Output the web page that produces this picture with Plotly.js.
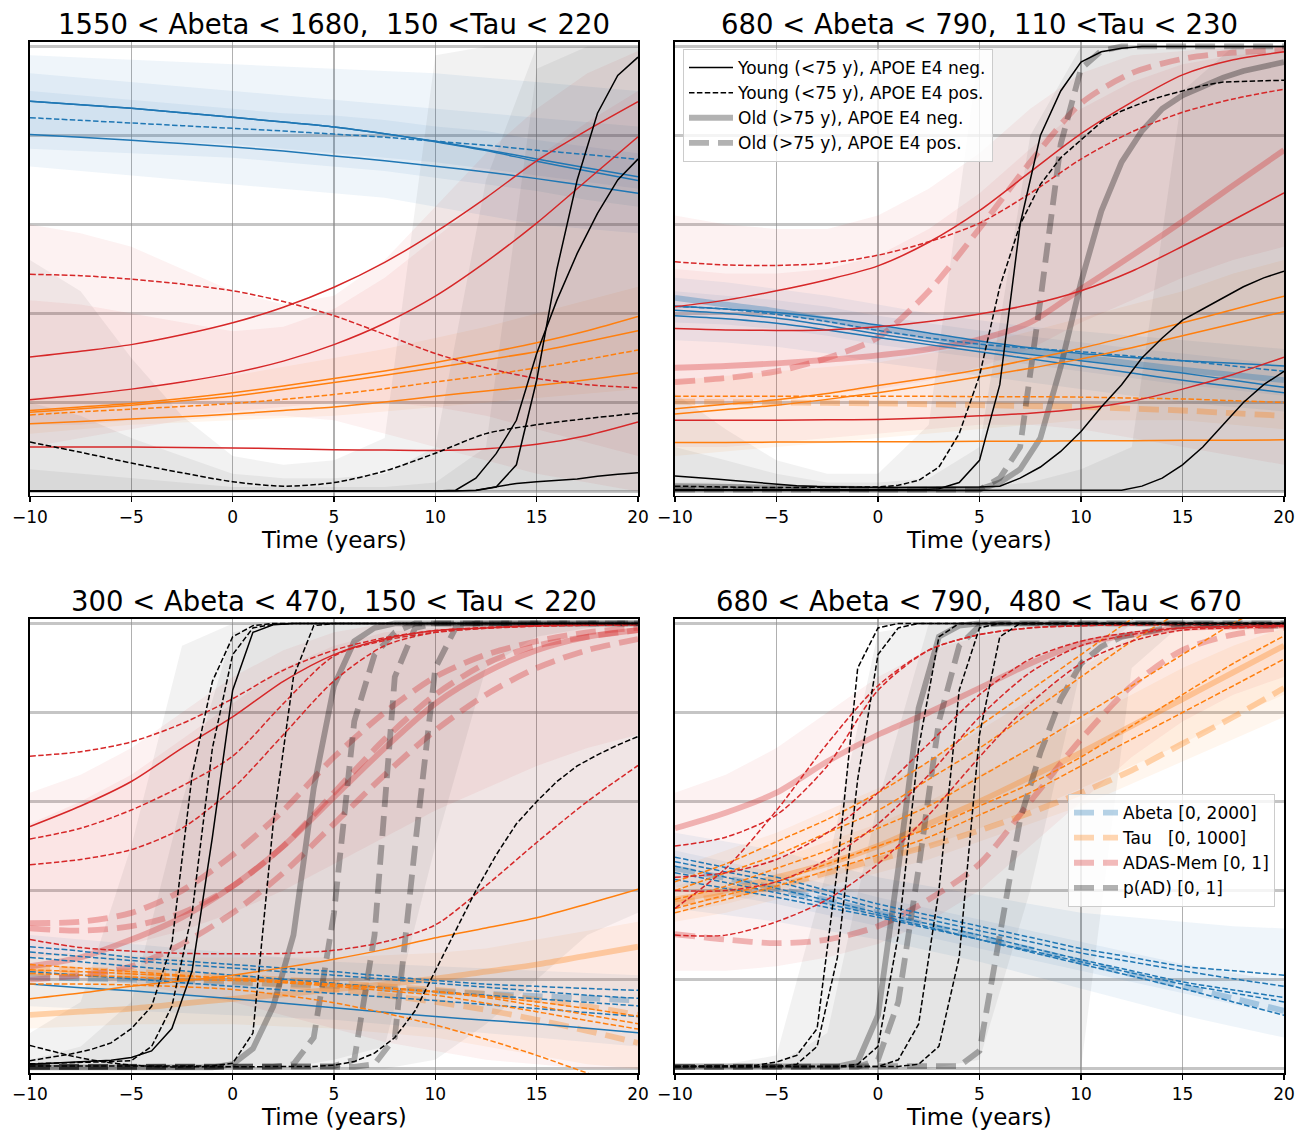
<!DOCTYPE html>
<html><head><meta charset="utf-8">
<script src="https://cdn.plot.ly/plotly-3.0.1.min.js"></script>
<style>html,body{margin:0;padding:0;background:#fff;}#chart{width:1309px;height:1132px;}</style>
</head><body><div id="chart"></div>
<script>
// ---------- time grids ----------
const T5 = [-10,-7.5,-5,-2.5,0,2.5,5,7.5,10,12.5,15,17.5,20];
const T1 = [-10,-9,-8,-7,-6,-5,-4,-3,-2,-1,0,1,2,3,4,5,6,7,8,9,10,11,12,13,14,15,16,17,18,19,20];
const XTICKS = [-10,-5,0,5,10,15,20];
const YGRID = [0,0.2,0.4,0.6,0.8,1.0];
const TITLES = ['1550 < Abeta < 1680,\u00a0 150 <Tau < 220','680 < Abeta < 790,\u00a0 110 <Tau < 230','300 < Abeta < 470,\u00a0 150 < Tau < 220','680 < Abeta < 790,\u00a0 480 < Tau < 670'];
const XLABEL = 'Time (years)';
const LEG1 = ['Young (<75 y), APOE E4 neg.','Young (<75 y), APOE E4 pos.','Old (>75 y), APOE E4 neg.','Old (>75 y), APOE E4 pos.'];
const LEG2 = ['Abeta [0, 2000]','Tau\u00a0\u00a0\u00a0[0, 1000]','ADAS-Mem [0, 1]','p(AD) [0, 1]'];

// ---------- panel 1 ----------
const ab1_s1 = [0.877,0.869,0.861,0.851,0.841,0.830,0.819,0.804,0.787,0.768,0.747,0.727,0.707];
const ab1_s2 = [0.877,0.869,0.861,0.851,0.841,0.830,0.819,0.804,0.786,0.766,0.742,0.720,0.699];
const ab1_d1 = [0.840,0.834,0.828,0.822,0.816,0.810,0.803,0.796,0.787,0.778,0.767,0.757,0.746];
const ab1_s3 = [0.802,0.796,0.789,0.782,0.774,0.765,0.754,0.743,0.731,0.718,0.703,0.687,0.670];
const ad1_s1 = [0.302,0.315,0.330,0.352,0.379,0.414,0.459,0.515,0.583,0.660,0.743,0.812,0.876];
const ad1_s2 = [0.206,0.217,0.230,0.246,0.266,0.293,0.330,0.378,0.439,0.516,0.603,0.700,0.797];
const ad1_d1 = [0.488,0.485,0.477,0.466,0.451,0.427,0.395,0.353,0.310,0.278,0.254,0.240,0.233];
const ad1_s3 = [0.100,0.100,0.100,0.099,0.098,0.096,0.094,0.093,0.092,0.096,0.106,0.126,0.156];
const ta1_s1 = [0.182,0.190,0.198,0.209,0.222,0.237,0.254,0.271,0.290,0.311,0.334,0.361,0.393];
const ta1_s2 = [0.178,0.186,0.194,0.204,0.214,0.229,0.245,0.261,0.278,0.296,0.314,0.337,0.361];
const ta1_d1 = [0.172,0.179,0.185,0.191,0.198,0.207,0.218,0.231,0.246,0.261,0.278,0.297,0.318];
const ta1_s3 = [0.152,0.157,0.163,0.168,0.174,0.182,0.190,0.201,0.214,0.226,0.238,0.251,0.266];
const pd1_s1 = [0.001,0.001,0.001,0.001,0.001,0.001,0.001,0.001,0.001,0.001,0.001,0.001,0.001,0.001,0.001,0.001,0.001,0.001,0.001,0.001,0.001,0.001,0.002,0.010,0.060,0.250,0.500,0.700,0.850,0.935,0.976];
const pd1_s2 = [0.001,0.001,0.001,0.001,0.001,0.001,0.001,0.001,0.001,0.001,0.001,0.001,0.001,0.001,0.001,0.001,0.001,0.001,0.001,0.001,0.001,0.003,0.030,0.085,0.160,0.310,0.430,0.535,0.625,0.700,0.747];
const pd1_s3 = [0.001,0.001,0.001,0.001,0.001,0.001,0.001,0.001,0.001,0.001,0.001,0.001,0.001,0.001,0.001,0.001,0.001,0.001,0.001,0.001,0.001,0.001,0.003,0.010,0.018,0.022,0.025,0.028,0.034,0.039,0.042];
const pd1_d1 = [0.111,0.088,0.064,0.042,0.022,0.012,0.020,0.046,0.086,0.130,0.150,0.164,0.176];
// bands panel 1
const ab1_lo1 = [0.73,0.72,0.71,0.70,0.69,0.68,0.67,0.66,0.64,0.62,0.60,0.59,0.58];
const ab1_hi1 = [0.98,0.975,0.97,0.965,0.96,0.955,0.95,0.945,0.94,0.93,0.92,0.91,0.90];
const ab1_lo2 = [0.77,0.765,0.76,0.755,0.75,0.74,0.73,0.72,0.705,0.69,0.675,0.655,0.64];
const ab1_hi2 = [0.94,0.93,0.92,0.91,0.90,0.89,0.88,0.87,0.86,0.85,0.84,0.83,0.82];
const ab1_lo3 = [0.80,0.795,0.79,0.785,0.78,0.77,0.76,0.75,0.74,0.725,0.71,0.695,0.68];
const ab1_hi3 = [0.90,0.89,0.88,0.87,0.86,0.85,0.845,0.835,0.82,0.81,0.79,0.775,0.76];
const ad1_lo1 = [0.10,0.12,0.14,0.16,0.17,0.17,0.16,0.13,0.10,0.07,0.04,0.02,0.0];
const ad1_hi1 = [0.60,0.58,0.55,0.50,0.45,0.42,0.44,0.52,0.64,0.76,0.86,0.94,0.99];
const ad1_lo2 = [0.15,0.15,0.16,0.17,0.18,0.19,0.20,0.20,0.19,0.17,0.14,0.11,0.08];
const ad1_hi2 = [0.43,0.42,0.40,0.38,0.36,0.37,0.41,0.48,0.57,0.66,0.75,0.83,0.90];
const ta1_lo1 = [0.13,0.14,0.15,0.155,0.16,0.165,0.17,0.18,0.19,0.20,0.21,0.22,0.23];
const ta1_hi1 = [0.21,0.22,0.23,0.245,0.26,0.28,0.30,0.32,0.345,0.37,0.40,0.43,0.46];
const ZERO = [0,0,0,0,0,0,0,0,0,0,0,0,0];
const pd1_hi1 = [0.52,0.45,0.30,0.17,0.08,0.06,0.07,0.12,0.98,1.0,1.0,1.0,1.0];
const pd1_hi2 = [0.20,0.17,0.12,0.08,0.04,0.03,0.03,0.04,0.10,0.70,1.0,1.0,1.0];
const pd1_hi3 = [0.05,0.04,0.03,0.02,0.01,0.01,0.01,0.01,0.02,0.10,0.95,1.0,1.0];

// ---------- panel 2 ----------
const ab2_s1 = [0.416,0.410,0.402,0.390,0.374,0.356,0.338,0.323,0.310,0.301,0.294,0.288,0.282];
const ab2_d1 = [0.416,0.410,0.398,0.382,0.362,0.345,0.331,0.322,0.314,0.304,0.294,0.282,0.270];
const ab2_s2 = [0.407,0.400,0.390,0.373,0.354,0.337,0.322,0.308,0.294,0.280,0.266,0.250,0.234];
const ab2_s3 = [0.395,0.388,0.378,0.363,0.346,0.330,0.314,0.298,0.282,0.266,0.250,0.236,0.222];
const ab2_S  = [0.435,0.420,0.405,0.386,0.366,0.348,0.330,0.316,0.302,0.288,0.274,0.262,0.250];
const ad2_d1 = [0.516,0.509,0.508,0.513,0.531,0.561,0.603,0.670,0.747,0.808,0.852,0.882,0.904];
const ad2_s1 = [0.415,0.430,0.451,0.476,0.507,0.560,0.631,0.718,0.804,0.875,0.936,0.970,0.988];
const ad2_s2 = [0.366,0.363,0.362,0.363,0.370,0.382,0.399,0.420,0.451,0.495,0.551,0.610,0.671];
const ad2_s3 = [0.160,0.160,0.160,0.161,0.162,0.165,0.170,0.176,0.186,0.203,0.230,0.263,0.302];
const ad2_S  = [0.278,0.282,0.288,0.296,0.306,0.320,0.342,0.380,0.455,0.530,0.607,0.688,0.767];
const ad2_D  = [0.246,0.255,0.270,0.300,0.346,0.450,0.591,0.740,0.872,0.940,0.972,0.986,0.992];
const ta2_s1 = [0.186,0.196,0.206,0.220,0.238,0.255,0.274,0.297,0.322,0.350,0.379,0.409,0.439];
const ta2_s2 = [0.174,0.184,0.194,0.207,0.222,0.239,0.258,0.277,0.298,0.323,0.350,0.377,0.404];
const ta2_d1 = [0.214,0.214,0.214,0.214,0.214,0.214,0.213,0.213,0.212,0.210,0.208,0.204,0.200];
const ta2_s3 = [0.110,0.110,0.111,0.111,0.112,0.112,0.113,0.113,0.114,0.114,0.115,0.115,0.116];
const ta2_D  = [0.202,0.201,0.200,0.199,0.198,0.196,0.194,0.192,0.190,0.186,0.182,0.176,0.170];
const pd2_s1 = [0.004,0.004,0.004,0.004,0.004,0.004,0.004,0.004,0.004,0.004,0.004,0.004,0.004,0.006,0.020,0.070,0.240,0.600,0.800,0.900,0.965,0.988,0.996,1,1,1,1,1,1,1,1];
const pd2_d1 = [0.012,0.011,0.010,0.010,0.009,0.009,0.009,0.009,0.009,0.009,0.010,0.014,0.025,0.055,0.130,0.260,0.460,0.600,0.690,0.750,0.790,0.830,0.855,0.873,0.888,0.900,0.912,0.920,0.922,0.923,0.924];
const pd2_s2 = [0.035,0.032,0.028,0.024,0.020,0.016,0.013,0.011,0.010,0.009,0.009,0.009,0.009,0.009,0.009,0.010,0.012,0.030,0.055,0.090,0.135,0.190,0.240,0.300,0.345,0.385,0.410,0.435,0.460,0.480,0.495];
const pd2_s3 = [0.002,0.002,0.002,0.002,0.002,0.002,0.002,0.002,0.002,0.002,0.002,0.002,0.002,0.002,0.002,0.002,0.002,0.002,0.002,0.002,0.002,0.002,0.003,0.012,0.030,0.060,0.100,0.150,0.200,0.240,0.270];
const pd2_S  = [0.012,0.011,0.010,0.009,0.008,0.007,0.006,0.006,0.005,0.005,0.005,0.005,0.005,0.005,0.005,0.005,0.020,0.050,0.120,0.280,0.470,0.630,0.740,0.810,0.860,0.890,0.910,0.930,0.945,0.955,0.965];
const pd2_D  = [0.004,0.004,0.004,0.004,0.004,0.004,0.004,0.004,0.004,0.004,0.004,0.004,0.004,0.004,0.004,0.004,0.030,0.100,0.430,0.780,0.950,0.990,1,1,1,1,1,1,1,1,1];
const ab2_lo1 = [0.34,0.335,0.325,0.31,0.29,0.275,0.26,0.245,0.23,0.215,0.20,0.19,0.18];
const ab2_hi1 = [0.48,0.47,0.455,0.44,0.42,0.40,0.385,0.37,0.36,0.35,0.34,0.33,0.32];
const ab2_lo2 = [0.38,0.375,0.365,0.35,0.33,0.315,0.30,0.285,0.27,0.255,0.24,0.228,0.215];
const ab2_hi2 = [0.45,0.44,0.43,0.415,0.395,0.378,0.362,0.348,0.335,0.322,0.31,0.298,0.285];
const ad2_lo1 = [0.10,0.10,0.11,0.12,0.13,0.14,0.15,0.15,0.14,0.12,0.10,0.08,0.06];
const ad2_hi1 = [0.62,0.60,0.59,0.59,0.62,0.68,0.76,0.86,0.94,0.98,0.99,1.0,1.0];
const ad2_lo2 = [0.20,0.20,0.21,0.22,0.23,0.25,0.28,0.32,0.38,0.43,0.48,0.52,0.55];
const ad2_hi2 = [0.50,0.49,0.49,0.50,0.53,0.59,0.67,0.77,0.86,0.92,0.96,0.98,0.99];
const ta2_lo1 = [0.08,0.09,0.10,0.11,0.12,0.13,0.14,0.15,0.16,0.16,0.16,0.15,0.14];
const ta2_hi1 = [0.25,0.26,0.27,0.28,0.29,0.31,0.33,0.36,0.39,0.42,0.45,0.49,0.52];
const pd2_hi1 = [0.22,0.14,0.07,0.04,0.04,0.15,1.0,1.0,1.0,1.0,1.0,1.0,1.0];
const pd2_hi2 = [0.10,0.07,0.04,0.02,0.02,0.03,0.10,0.80,1.0,1.0,1.0,1.0,1.0];
const pd2_hi3 = [0.02,0.02,0.01,0.01,0.01,0.01,0.01,0.02,0.05,0.10,0.90,1.0,1.0];

// ---------- panel 3 ----------
const ab3_s1 = [0.190,0.182,0.175,0.166,0.157,0.147,0.137,0.127,0.117,0.109,0.101,0.091,0.081];
const ab3_d1 = [0.274,0.264,0.250,0.242,0.234,0.226,0.218,0.208,0.198,0.190,0.185,0.180,0.176];
const ab3_d2 = [0.250,0.240,0.230,0.220,0.210,0.201,0.192,0.182,0.173,0.165,0.157,0.149,0.141];
const ab3_d3 = [0.218,0.210,0.202,0.193,0.185,0.177,0.169,0.161,0.153,0.144,0.135,0.126,0.117];
const ab3_d4 = [0.262,0.252,0.243,0.234,0.226,0.218,0.210,0.201,0.192,0.183,0.174,0.165,0.158];
const ab3_D  = [0.206,0.203,0.200,0.197,0.194,0.190,0.186,0.180,0.174,0.168,0.163,0.158,0.153];
const ta3_s1 = [0.157,0.170,0.185,0.197,0.210,0.227,0.246,0.268,0.294,0.316,0.339,0.370,0.403];
const ta3_d1 = [0.234,0.226,0.218,0.210,0.202,0.193,0.185,0.175,0.165,0.147,0.128,0.108,0.089];
const ta3_d2 = [0.214,0.210,0.206,0.201,0.198,0.194,0.188,0.180,0.172,0.160,0.141,0.121,0.101];
const ta3_d3 = [0.190,0.190,0.188,0.184,0.178,0.165,0.148,0.125,0.098,0.066,0.030,-0.010,-0.050];
const ta3_d4 = [0.222,0.218,0.213,0.208,0.203,0.197,0.190,0.182,0.174,0.163,0.150,0.135,0.118];
const ta3_S  = [0.121,0.128,0.135,0.146,0.157,0.167,0.178,0.190,0.202,0.218,0.234,0.254,0.274];
const ta3_D1 = [0.226,0.222,0.218,0.212,0.206,0.200,0.193,0.185,0.177,0.168,0.155,0.140,0.121];
const ta3_D2 = [0.215,0.212,0.208,0.202,0.196,0.188,0.178,0.165,0.150,0.132,0.110,0.085,0.058];
const ad3_s1 = [0.544,0.590,0.645,0.720,0.790,0.870,0.930,0.965,0.984,0.990,0.995,0.997,0.998];
const ad3_d1 = [0.702,0.712,0.734,0.775,0.831,0.895,0.940,0.968,0.984,0.991,0.995,0.997,0.998];
const ad3_d2 = [0.516,0.540,0.581,0.635,0.702,0.820,0.927,0.962,0.980,0.989,0.994,0.996,0.997];
const ad3_d3 = [0.458,0.470,0.492,0.540,0.629,0.750,0.871,0.950,0.980,0.990,0.994,0.996,0.997];
const ad3_d4 = [0.290,0.272,0.264,0.259,0.258,0.259,0.266,0.285,0.323,0.411,0.508,0.600,0.681];
const ad3_S  = [0.230,0.250,0.290,0.340,0.410,0.500,0.610,0.720,0.820,0.890,0.940,0.970,0.985];
const ad3_D1 = [0.327,0.330,0.350,0.400,0.480,0.580,0.700,0.800,0.880,0.930,0.960,0.980,0.990];
const ad3_D2 = [0.315,0.310,0.320,0.350,0.410,0.500,0.620,0.740,0.840,0.910,0.950,0.970,0.985];
const ad3_D3 = [0.200,0.210,0.230,0.280,0.350,0.440,0.550,0.660,0.760,0.840,0.900,0.940,0.965];
const pd3_d1 = [0.018,0.025,0.033,0.043,0.058,0.090,0.140,0.280,0.660,0.870,0.970,0.995,1,1,1,1,1,1,1,1,1,1,1,1,1,1,1,1,1,1,1];
const pd3_d2 = [0.011,0.012,0.013,0.014,0.016,0.018,0.050,0.140,0.350,0.720,0.930,0.990,0.998,1,1,1,1,1,1,1,1,1,1,1,1,1,1,1,1,1,1];
const pd3_s1 = [0.010,0.012,0.014,0.016,0.019,0.025,0.040,0.090,0.220,0.520,0.850,0.980,0.997,1,1,1,1,1,1,1,1,1,1,1,1,1,1,1,1,1,1];
const pd3_d3 = [0.006,0.006,0.006,0.006,0.006,0.006,0.006,0.006,0.006,0.006,0.012,0.080,0.550,0.880,0.995,1,1,1,1,1,1,1,1,1,1,1,1,1,1,1,1];
const pd3_d4 = [0.052,0.040,0.029,0.020,0.013,0.008,0.005,0.004,0.004,0.004,0.004,0.004,0.004,0.004,0.005,0.008,0.016,0.035,0.070,0.130,0.220,0.310,0.400,0.480,0.550,0.600,0.645,0.680,0.705,0.727,0.746];
const pd3_S  = [0.003,0.003,0.003,0.003,0.003,0.003,0.003,0.003,0.003,0.003,0.010,0.045,0.140,0.300,0.630,0.860,0.960,0.990,1,1,1,1,1,1,1,1,1,1,1,1,1];
const pd3_D1 = [0.004,0.004,0.004,0.004,0.004,0.004,0.004,0.004,0.004,0.004,0.004,0.004,0.004,0.010,0.070,0.350,0.780,0.930,0.980,1,1,1,1,1,1,1,1,1,1,1,1];
const pd3_D2 = [0.004,0.004,0.004,0.004,0.004,0.004,0.004,0.004,0.004,0.004,0.004,0.004,0.004,0.004,0.004,0.006,0.020,0.300,0.880,0.990,1,1,1,1,1,1,1,1,1,1,1];
const pd3_D3 = [0.004,0.004,0.004,0.004,0.004,0.004,0.004,0.004,0.004,0.004,0.004,0.004,0.004,0.004,0.004,0.004,0.004,0.010,0.070,0.500,0.900,0.990,1,1,1,1,1,1,1,1,1];
const pd3_lo1 = [0,0,0,0,0,0,0,0,0.02,0.10,0.20,0.30,0.35];
const pd3_hi1 = [0.08,0.15,0.50,0.95,1,1,1,1,1,1,1,1,1];
const pd3_lo2 = [0,0,0,0,0,0,0.02,0.05,0.50,0.90,0.97,0.99,1.0];
const pd3_hi2 = [0.02,0.05,0.15,0.60,0.98,1,1,1,1,1,1,1,1];
const ad3_lo1 = [0.20,0.20,0.19,0.17,0.15,0.12,0.09,0.06,0.04,0.02,0.01,0.0,0.0];
const ad3_hi1 = [0.62,0.66,0.72,0.80,0.88,0.94,0.98,1,1,1,1,1,1];
const ad3_lo2 = [0.25,0.26,0.28,0.31,0.35,0.40,0.46,0.52,0.58,0.63,0.68,0.72,0.75];
const ad3_hi2 = [0.55,0.60,0.66,0.74,0.82,0.90,0.95,0.98,0.99,1,1,1,1];
const ab3_lo1 = [0.14,0.135,0.13,0.125,0.12,0.115,0.11,0.10,0.09,0.08,0.07,0.06,0.05];
const ab3_hi1 = [0.30,0.29,0.28,0.27,0.26,0.25,0.24,0.235,0.23,0.225,0.22,0.215,0.21];
const ta3_lo1 = [0.09,0.095,0.10,0.10,0.10,0.095,0.09,0.08,0.07,0.05,0.03,0.01,0.0];
const ta3_hi1 = [0.26,0.26,0.255,0.25,0.25,0.25,0.25,0.255,0.26,0.27,0.29,0.31,0.33];

// ---------- panel 4 ----------
const ab4_d1 = [0.475,0.452,0.430,0.400,0.370,0.345,0.320,0.295,0.270,0.250,0.230,0.220,0.210];
const ab4_d2 = [0.465,0.442,0.420,0.390,0.360,0.335,0.310,0.285,0.260,0.240,0.220,0.202,0.185];
const ab4_d3 = [0.455,0.430,0.405,0.378,0.350,0.325,0.300,0.272,0.245,0.220,0.195,0.177,0.160];
const ab4_d4 = [0.440,0.418,0.395,0.370,0.345,0.318,0.290,0.262,0.235,0.208,0.180,0.150,0.120];
const ab4_d5 = [0.425,0.405,0.385,0.362,0.340,0.315,0.290,0.265,0.240,0.215,0.190,0.170,0.150];
const ab4_D  = [0.450,0.428,0.405,0.378,0.350,0.322,0.295,0.268,0.240,0.212,0.185,0.158,0.130];
const ta4_d1 = [0.42,0.46,0.51,0.56,0.62,0.69,0.77,0.85,0.93,1.01,1.08,1.14,1.20];
const ta4_d2 = [0.40,0.44,0.48,0.53,0.58,0.65,0.72,0.80,0.88,0.96,1.03,1.10,1.16];
const ta4_d3 = [0.38,0.41,0.45,0.49,0.54,0.59,0.655,0.72,0.79,0.86,0.93,1.00,1.06];
const ta4_d4 = [0.36,0.39,0.42,0.46,0.50,0.54,0.59,0.64,0.70,0.77,0.84,0.91,0.972];
const ta4_d5 = [0.35,0.38,0.41,0.445,0.48,0.52,0.57,0.62,0.68,0.74,0.80,0.86,0.92];
const ta4_S  = [0.38,0.40,0.43,0.46,0.50,0.55,0.60,0.655,0.71,0.77,0.83,0.89,0.95];
const ta4_D  = [0.371,0.39,0.41,0.44,0.47,0.50,0.535,0.575,0.62,0.67,0.73,0.79,0.855];
const ad4_d1 = [0.50,0.52,0.57,0.68,0.85,0.94,0.975,0.99,0.995,0.997,0.998,0.998,0.998];
const ad4_d2 = [0.36,0.45,0.58,0.73,0.86,0.94,0.975,0.99,0.995,0.997,0.998,0.998,0.998];
const ad4_d3 = [0.43,0.44,0.47,0.53,0.62,0.73,0.84,0.92,0.96,0.98,0.99,0.993,0.995];
const ad4_d4 = [0.40,0.40,0.42,0.47,0.55,0.66,0.79,0.89,0.95,0.975,0.99,0.993,0.995];
const ad4_d5 = [0.30,0.30,0.33,0.38,0.46,0.57,0.70,0.82,0.91,0.96,0.985,0.99,0.993];
const ad4_S  = [0.54,0.575,0.62,0.69,0.75,0.80,0.855,0.91,0.955,0.975,0.99,0.993,0.995];
const ad4_D  = [0.302,0.29,0.282,0.29,0.32,0.38,0.46,0.60,0.74,0.86,0.94,0.975,0.99];
const pd4_d1 = [0.005,0.005,0.005,0.006,0.008,0.015,0.030,0.090,0.450,0.900,0.990,1,1,1,1,1,1,1,1,1,1,1,1,1,1,1,1,1,1,1,1];
const pd4_d2 = [0.005,0.005,0.005,0.005,0.005,0.005,0.010,0.050,0.250,0.650,0.930,0.990,1,1,1,1,1,1,1,1,1,1,1,1,1,1,1,1,1,1,1];
const pd4_d3 = [0.005,0.005,0.005,0.005,0.005,0.005,0.005,0.005,0.005,0.010,0.050,0.300,0.720,0.970,1,1,1,1,1,1,1,1,1,1,1,1,1,1,1,1,1];
const pd4_d4 = [0.005,0.005,0.005,0.005,0.005,0.005,0.005,0.005,0.005,0.005,0.005,0.020,0.100,0.400,0.850,0.990,1,1,1,1,1,1,1,1,1,1,1,1,1,1,1];
const pd4_d5 = [0.005,0.005,0.005,0.005,0.005,0.005,0.005,0.005,0.005,0.005,0.005,0.005,0.010,0.050,0.250,0.750,0.970,1,1,1,1,1,1,1,1,1,1,1,1,1,1];
const pd4_S  = [0.005,0.005,0.005,0.005,0.005,0.005,0.005,0.005,0.005,0.015,0.120,0.450,0.810,0.970,0.995,1,1,1,1,1,1,1,1,1,1,1,1,1,1,1,1];
const pd4_D1 = [0.004,0.004,0.004,0.004,0.004,0.004,0.004,0.004,0.004,0.004,0.020,0.150,0.450,0.780,0.950,0.995,1,1,1,1,1,1,1,1,1,1,1,1,1,1,1];
const pd4_D2 = [0.004,0.004,0.004,0.004,0.004,0.004,0.004,0.004,0.004,0.004,0.004,0.004,0.004,0.004,0.006,0.040,0.300,0.560,0.710,0.830,0.910,0.948,0.970,0.980,0.988,0.995,0.995,0.995,0.995,0.995,0.995];
const ab4_lo1 = [0.36,0.345,0.33,0.31,0.29,0.265,0.24,0.21,0.18,0.15,0.12,0.095,0.07];
const ab4_hi1 = [0.53,0.51,0.49,0.46,0.43,0.41,0.39,0.37,0.35,0.34,0.33,0.32,0.315];
const ab4_lo2 = [0.41,0.39,0.37,0.345,0.32,0.295,0.27,0.245,0.22,0.195,0.17,0.145,0.12];
const ab4_hi2 = [0.49,0.465,0.44,0.415,0.385,0.36,0.335,0.31,0.285,0.26,0.235,0.215,0.195];
const ta4_lo1 = [0.33,0.35,0.38,0.41,0.44,0.47,0.51,0.55,0.59,0.64,0.69,0.74,0.79];
const ta4_hi1 = [0.45,0.49,0.53,0.58,0.63,0.69,0.76,0.83,0.90,0.97,1.0,1.0,1.0];
const ta4_lo2 = [0.35,0.37,0.40,0.43,0.46,0.50,0.54,0.58,0.63,0.68,0.73,0.79,0.84];
const ta4_hi2 = [0.41,0.44,0.47,0.51,0.55,0.60,0.66,0.72,0.78,0.84,0.90,0.95,0.99];
const ad4_lo1 = [0.22,0.22,0.23,0.25,0.28,0.33,0.40,0.50,0.60,0.70,0.78,0.84,0.88];
const ad4_hi1 = [0.62,0.66,0.72,0.80,0.88,0.94,0.97,0.99,1,1,1,1,1];
const pd4_lo1 = [0,0,0,0,0,0,0,0,0,0.9,1,1,1];
const pd4_hi1 = [0,0.01,0.03,0.45,0.98,1,1,1,1,1,1,1,1];
const pd4_lo2 = [0,0,0,0,0,0,0.02,0.40,0.90,1,1,1,1];
const pd4_hi2 = [0,0,0.01,0.08,0.60,1,1,1,1,1,1,1,1];

// ---------- drawing ----------
const FONT = 'DejaVu Sans, Liberation Sans, sans-serif';
const RGB = {ab:'31,119,180', ta:'255,127,14', ad:'214,39,40', pd:'0,0,0'};
const BAND_A = {ab:0.07, ta:0.07, ad:0.06, pd:0.05};
const traces = [];
function ax(p){ return p === 1 ? ['x','y'] : ['x'+p,'y'+p]; }
function band(p, g, lo, hi){
  const [xa, ya] = ax(p);
  traces.push({type:'scatter', mode:'lines', xaxis:xa, yaxis:ya,
    x: T5.concat(T5.slice().reverse()), y: lo.concat(hi.slice().reverse()),
    fill:'toself', fillcolor:`rgba(${RGB[g]},${BAND_A[g]})`,
    line:{width:0, color:'rgba(0,0,0,0)'}, hoverinfo:'skip', showlegend:false});
}
function line(p, g, style, y, leg){
  const [xa, ya] = ax(p);
  const x = y.length === T1.length ? T1 : T5;
  const thick = style === 'S' || style === 'D';
  const dashed = style === 'd' || style === 'D';
  const t = {type:'scatter', mode:'lines', xaxis:xa, yaxis:ya, x:x, y:y,
    line:{color: thick ? `rgba(${RGB[g]},${g === 'pd' ? 0.3 : 0.32})` : `rgb(${RGB[g]})`,
      width: thick ? 5.8 : 1.5,
      dash: dashed ? (thick ? '20px,9px' : '5.5px,2.4px') : 'solid',
      shape: x === T5 ? 'spline' : 'linear', smoothing: 0.8},
    hoverinfo:'skip', showlegend:false};
  if (leg) Object.assign(t, {showlegend:true, name:leg.name, legend:leg.legend, legendrank:leg.rank});
  traces.push(t);
}

// panel 1
band(1,'ab',ab1_lo1,ab1_hi1); band(1,'ab',ab1_lo2,ab1_hi2); band(1,'ab',ab1_lo3,ab1_hi3);
band(1,'ta',ta1_lo1,ta1_hi1);
band(1,'ad',ad1_lo1,ad1_hi1); band(1,'ad',ad1_lo2,ad1_hi2);
band(1,'pd',ZERO,pd1_hi1); band(1,'pd',ZERO,pd1_hi2); band(1,'pd',ZERO,pd1_hi3);
line(1,'ab','s',ab1_s1); line(1,'ab','s',ab1_s2); line(1,'ab','d',ab1_d1); line(1,'ab','s',ab1_s3);
line(1,'ta','s',ta1_s1); line(1,'ta','s',ta1_s2); line(1,'ta','d',ta1_d1); line(1,'ta','s',ta1_s3);
line(1,'ad','s',ad1_s1); line(1,'ad','s',ad1_s2); line(1,'ad','d',ad1_d1); line(1,'ad','s',ad1_s3);
line(1,'pd','s',pd1_s1); line(1,'pd','s',pd1_s2); line(1,'pd','s',pd1_s3); line(1,'pd','d',pd1_d1);

// panel 2
band(2,'ab',ab2_lo1,ab2_hi1); band(2,'ab',ab2_lo2,ab2_hi2);
band(2,'ta',ta2_lo1,ta2_hi1);
band(2,'ad',ad2_lo1,ad2_hi1); band(2,'ad',ad2_lo2,ad2_hi2);
band(2,'pd',ZERO,pd2_hi1); band(2,'pd',ZERO,pd2_hi2); band(2,'pd',ZERO,pd2_hi3);
line(2,'ab','S',ab2_S); line(2,'ta','D',ta2_D);
line(2,'ad','S',ad2_S); line(2,'ad','D',ad2_D);
line(2,'pd','S',pd2_S,{name:LEG1[2],legend:'legend',rank:3});
line(2,'pd','D',pd2_D,{name:LEG1[3],legend:'legend',rank:4});
line(2,'ab','s',ab2_s1); line(2,'ab','d',ab2_d1); line(2,'ab','s',ab2_s2); line(2,'ab','s',ab2_s3);
line(2,'ta','s',ta2_s1); line(2,'ta','s',ta2_s2); line(2,'ta','d',ta2_d1); line(2,'ta','s',ta2_s3);
line(2,'ad','d',ad2_d1); line(2,'ad','s',ad2_s1); line(2,'ad','s',ad2_s2); line(2,'ad','s',ad2_s3);
line(2,'pd','s',pd2_s1,{name:LEG1[0],legend:'legend',rank:1});
line(2,'pd','d',pd2_d1,{name:LEG1[1],legend:'legend',rank:2});
line(2,'pd','s',pd2_s2); line(2,'pd','s',pd2_s3);

// panel 3
band(3,'ab',ab3_lo1,ab3_hi1);
band(3,'ta',ta3_lo1,ta3_hi1);
band(3,'ad',ad3_lo1,ad3_hi1); band(3,'ad',ad3_lo2,ad3_hi2);
band(3,'pd',pd3_lo1,pd3_hi1); band(3,'pd',pd3_lo2,pd3_hi2);
line(3,'ab','D',ab3_D);
line(3,'ta','S',ta3_S); line(3,'ta','D',ta3_D1); line(3,'ta','D',ta3_D2);
line(3,'ad','S',ad3_S); line(3,'ad','D',ad3_D1); line(3,'ad','D',ad3_D2); line(3,'ad','D',ad3_D3);
line(3,'pd','S',pd3_S); line(3,'pd','D',pd3_D1); line(3,'pd','D',pd3_D2); line(3,'pd','D',pd3_D3);
line(3,'ab','s',ab3_s1); line(3,'ab','d',ab3_d1); line(3,'ab','d',ab3_d2); line(3,'ab','d',ab3_d3); line(3,'ab','d',ab3_d4);
line(3,'ta','s',ta3_s1); line(3,'ta','d',ta3_d1); line(3,'ta','d',ta3_d2); line(3,'ta','d',ta3_d3); line(3,'ta','d',ta3_d4);
line(3,'ad','s',ad3_s1); line(3,'ad','d',ad3_d1); line(3,'ad','d',ad3_d2); line(3,'ad','d',ad3_d3); line(3,'ad','d',ad3_d4);
line(3,'pd','s',pd3_s1); line(3,'pd','d',pd3_d1); line(3,'pd','d',pd3_d2); line(3,'pd','d',pd3_d3); line(3,'pd','d',pd3_d4);

// panel 4
band(4,'ab',ab4_lo1,ab4_hi1); band(4,'ab',ab4_lo2,ab4_hi2);
band(4,'ta',ta4_lo1,ta4_hi1); band(4,'ta',ta4_lo2,ta4_hi2);
band(4,'ad',ad4_lo1,ad4_hi1);
band(4,'pd',pd4_lo1,pd4_hi1); band(4,'pd',pd4_lo2,pd4_hi2);
line(4,'ab','D',ab4_D,{name:LEG2[0],legend:'legend2',rank:1});
line(4,'ta','S',ta4_S);
line(4,'ta','D',ta4_D,{name:LEG2[1],legend:'legend2',rank:2});
line(4,'ad','S',ad4_S);
line(4,'ad','D',ad4_D,{name:LEG2[2],legend:'legend2',rank:3});
line(4,'pd','S',pd4_S);
line(4,'pd','D',pd4_D1,{name:LEG2[3],legend:'legend2',rank:4});
line(4,'pd','D',pd4_D2);
line(4,'ab','d',ab4_d1); line(4,'ab','d',ab4_d2); line(4,'ab','d',ab4_d3); line(4,'ab','d',ab4_d4); line(4,'ab','d',ab4_d5);
line(4,'ta','d',ta4_d1); line(4,'ta','d',ta4_d2); line(4,'ta','d',ta4_d3); line(4,'ta','d',ta4_d4); line(4,'ta','d',ta4_d5);
line(4,'ad','d',ad4_d1); line(4,'ad','d',ad4_d2); line(4,'ad','d',ad4_d3); line(4,'ad','d',ad4_d4); line(4,'ad','d',ad4_d5);
line(4,'pd','d',pd4_d1); line(4,'pd','d',pd4_d2); line(4,'pd','d',pd4_d3); line(4,'pd','d',pd4_d4); line(4,'pd','d',pd4_d5);

// ---------- layout ----------
const W = 1309, H = 1132;
const PX = {1:[30,638], 2:[675,1284], 3:[30,638], 4:[675,1284]};
const PY = {1:[42,495.5], 2:[42,495.5], 3:[619,1072.7], 4:[619,1072.7]};
const LEGFONT = {family:FONT, size:17, color:'#000'};
const layout = {width:W, height:H, margin:{l:0,r:0,t:0,b:0}, paper_bgcolor:'#fff', plot_bgcolor:'#fff',
  font:{family:FONT, color:'#000'}, showlegend:true, annotations:[],
  legend:{x:683/W, y:1-49/H, xanchor:'left', yanchor:'top', bgcolor:'rgba(255,255,255,0.8)',
    bordercolor:'#cccccc', borderwidth:1, font:LEGFONT, itemwidth:44},
  legend2:{x:1068/W, y:1-794/H, xanchor:'left', yanchor:'top', bgcolor:'rgba(255,255,255,0.8)',
    bordercolor:'#cccccc', borderwidth:1, font:LEGFONT, itemwidth:44}
};
for (let p = 1; p <= 4; p++) {
  const xk = p === 1 ? 'xaxis' : 'xaxis'+p, yk = p === 1 ? 'yaxis' : 'yaxis'+p;
  const xd = [PX[p][0]/W, PX[p][1]/W], yd = [1-PY[p][1]/H, 1-PY[p][0]/H];
  layout[xk] = {domain:xd, anchor: p === 1 ? 'y' : 'y'+p, range:[-10,20], tickmode:'array', tickvals:XTICKS,
    ticks:'outside', ticklen:5, tickwidth:1.5, tickcolor:'#000', showline:true, linecolor:'#000', linewidth:1.8,
    mirror:true, showgrid:true, gridcolor:'#b0b0b0', gridwidth:1.1, zeroline:false,
    tickfont:{family:FONT, size:17, color:'#000'}};
  layout[yk] = {domain:yd, anchor: p === 1 ? 'x' : 'x'+p, range:[-0.009,1.01], tickmode:'array', tickvals:YGRID,
    showticklabels:false, ticks:'', showline:true, linecolor:'#000', linewidth:1.8, mirror:true,
    showgrid:true, gridcolor:'rgba(140,140,140,0.5)', gridwidth:2.5, zeroline:false};
  const xm = (xd[0]+xd[1])/2;
  layout.annotations.push({text:TITLES[p-1], x:xm, y:yd[1], xref:'paper', yref:'paper', xanchor:'center', yanchor:'bottom',
    yshift:1.5, borderpad:0, showarrow:false, font:{family:FONT, size:27.5, color:'#000'}});
  layout.annotations.push({text:XLABEL, x:xm, y:yd[0], xref:'paper', yref:'paper', xanchor:'center', yanchor:'top',
    yshift:-30, borderpad:0, showarrow:false, font:{family:FONT, size:23, color:'#000'}});
}
Plotly.newPlot('chart', traces, layout, {displayModeBar:false, staticPlot:true});
</script></body></html>
